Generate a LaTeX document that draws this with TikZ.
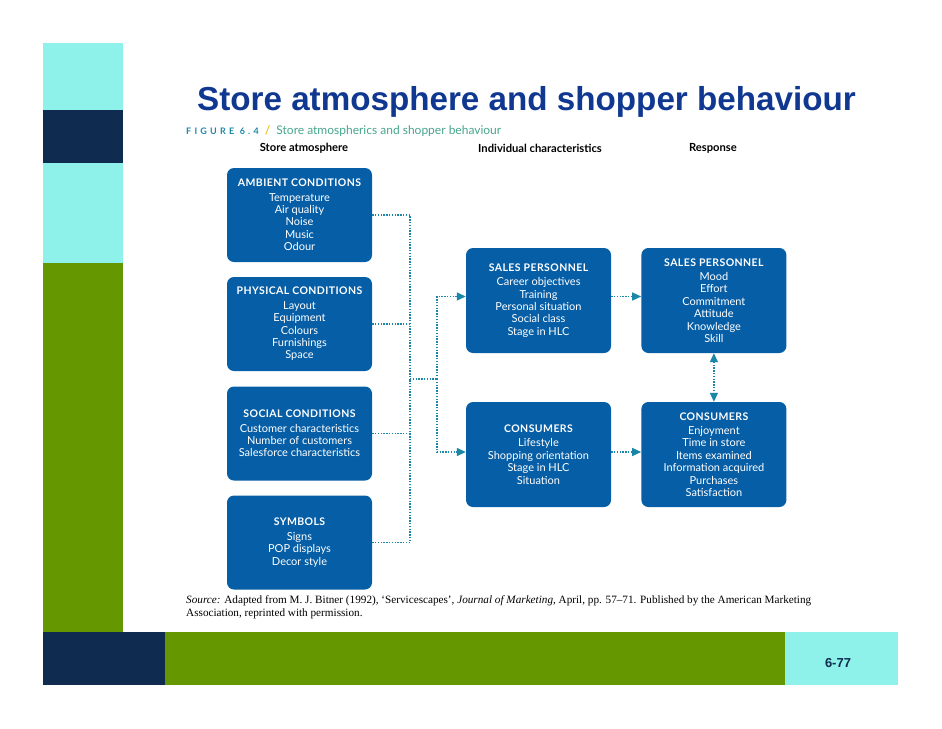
\documentclass[tikz,border=0pt]{standalone}
\usepackage{fontspec}
\setmainfont{Lato}
\newfontfamily\slidefont{Liberation Sans}
\newfontfamily\sourcefont[Ligatures=TeX]{Liberation Serif}
\usetikzlibrary{positioning}
\usetikzlibrary{arrows.meta}
\definecolor{sblue}{RGB}{6,94,166}
\definecolor{snavy}{RGB}{15,43,80}
\definecolor{saqua}{RGB}{142,242,234}
\definecolor{sgreen}{RGB}{101,151,0}
\definecolor{steal}{RGB}{27,135,168}
\definecolor{stitle}{RGB}{16,56,145}
\definecolor{sfig}{RGB}{70,165,140}
\definecolor{sslash}{RGB}{240,200,40}
\newcommand{\boxhead}[1]{{\fontsize{10.5}{12}\selectfont\bfseries\addfontfeatures{LetterSpace=4}#1}\\[2pt]}

\begin{document}
\begin{tikzpicture}[x=1pt, y=-1pt,
    factor/.style={fill=sblue, rounded corners=7pt, minimum width=145pt, minimum height=94pt,
        inner sep=0pt, align=center, text=white, font=\fontsize{11}{12.4}\selectfont},
    result/.style={factor, minimum height=105pt},
    link/.style={draw=steal, line width=1.4pt, dash pattern=on 1.4pt off 1.4pt},
    arrow/.style={link, -{Triangle[length=9pt, width=8pt]}},
    twoway/.style={link, {Triangle[length=9pt, width=8pt]}-{Triangle[length=9pt, width=8pt]}},
    heading/.style={font=\fontsize{11.2}{13}\selectfont\bfseries},
]
    \useasboundingbox (0,0) rectangle (942,728);

    % slide bands
    \fill[saqua] (43,43) rectangle (123,110);
    \fill[snavy] (43,110) rectangle (123,163);
    \fill[saqua] (43,163) rectangle (123,263);
    \fill[sgreen] (43,263) rectangle (123,632);
    \fill[snavy] (43,632) rectangle (165,685);
    \fill[sgreen] (165,632) rectangle (785,685);
    \fill[saqua] (785,632) rectangle (898,685);

    \node[anchor=base west, inner sep=0pt, text=stitle, font=\slidefont\fontsize{33.2}{36}\selectfont\bfseries] (title) at (197,110) {Store atmosphere and shopper behaviour};
    \node[anchor=base west, inner sep=0pt, font=\fontsize{12}{14}\selectfont] (figure) at (186,134)
        {{\color{steal}\fontsize{9}{10}\selectfont\bfseries\addfontfeatures{LetterSpace=36}FIGURE 6.4}\enspace{\color{sslash}\bfseries/}\enspace{\color{sfig}Store atmospherics and shopper behaviour}};
    \node[text=snavy, font=\slidefont\fontsize{13}{15}\selectfont\bfseries] (page) at (838,663) {6-77};

    % column headings
    \node[heading] (h1) at (304,148) {Store atmosphere};
    \node[heading] (h2) at (540,148) {Individual characteristics};
    \node[heading] (h3) at (713,148) {Response};

    % store atmosphere
    \node[factor] (amb) at (299.5,215) {\boxhead{AMBIENT CONDITIONS}Temperature\\Air quality\\Noise\\Music\\Odour};
    \node[factor] (phy) at (299.5,324) {\boxhead{PHYSICAL CONDITIONS}Layout\\Equipment\\Colours\\Furnishings\\Space};
    \node[factor] (soc) at (299.5,433.5) {\boxhead{SOCIAL CONDITIONS}Customer characteristics\\Number of customers\\Salesforce characteristics};
    \node[factor] (sym) at (299.5,542.5) {\boxhead{SYMBOLS}Signs\\POP displays\\Decor style};

    % individual characteristics
    \node[result] (spm) at (538.5,300.5) {\boxhead{SALES PERSONNEL}Career objectives\\Training\\Personal situation\\Social class\\Stage in HLC};
    \node[result] (com) at (538.5,454.5) {\boxhead{CONSUMERS}Lifestyle\\Shopping orientation\\Stage in HLC\\Situation};

    % response
    \node[result, right=30pt of spm] (spr) {\boxhead{SALES PERSONNEL}Mood\\Effort\\Commitment\\Attitude\\Knowledge\\Skill};
    \node[result, right=30pt of com] (cor) {\boxhead{CONSUMERS}Enjoyment\\Time in store\\Items examined\\Information acquired\\Purchases\\Satisfaction};

    \coordinate (split) at (410,379);
    \coordinate (fork) at (437,379);

    \draw[link] (amb.east) -| (split);
    \draw[link] (sym.east) -| (split);
    \draw[link] (phy.east) -- (phy.east -| split);
    \draw[link] (soc.east) -- (soc.east -| split);
    \draw[link] (split) -- (fork);
    \draw[arrow] (fork) |- ([yshift=4pt]spm.west);
    \draw[arrow] (fork) |- ([yshift=2.5pt]com.west);
    \draw[arrow] ([yshift=4pt]spm.east) -- ([yshift=4pt]spr.west);
    \draw[arrow] ([yshift=2.5pt]com.east) -- ([yshift=2.5pt]cor.west);
    \draw[twoway] (spr.south) -- (cor.north);

    \node[anchor=base west, inner sep=0pt, align=left, font=\sourcefont\fontsize{11.2}{13}\selectfont] (source) at (186,616)
        {\textit{Source:} Adapted from M. J. Bitner (1992), ‘Servicescapes’, \textit{Journal of Marketing}, April, pp. 57–71. Published by the American Marketing\\
        Association, reprinted with permission.};

\end{tikzpicture}
\end{document}
